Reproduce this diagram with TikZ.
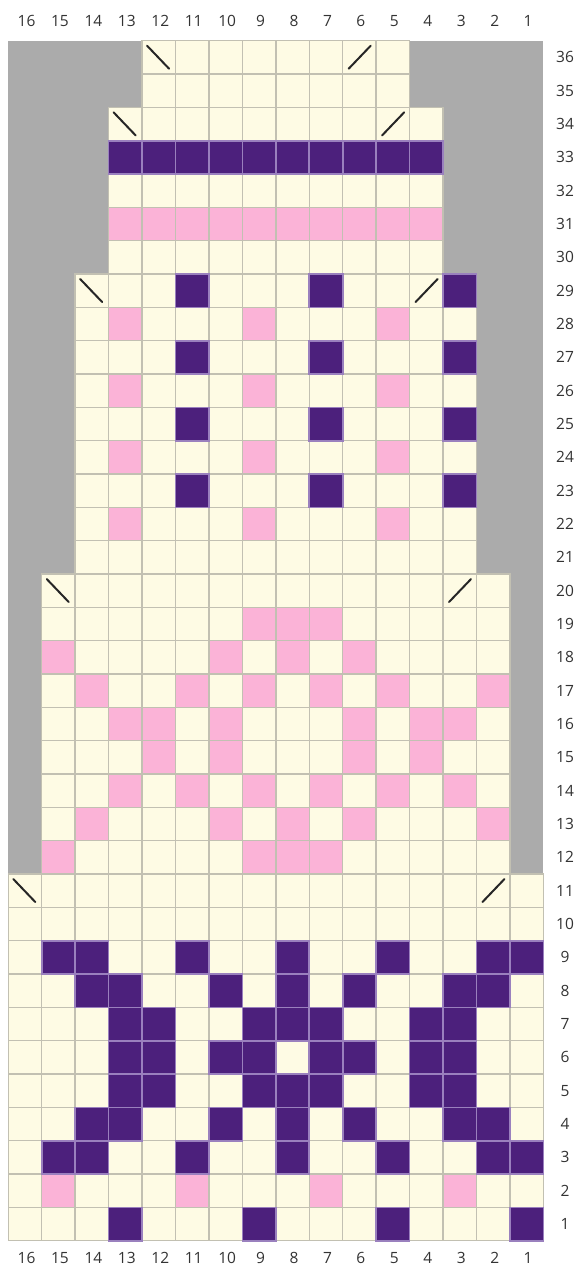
\documentclass[tikz,border=0pt]{standalone}
\usepackage{fontspec}
\setmainfont{Open Sans}
\definecolor{kgray}{HTML}{ABABAB}
\definecolor{kcream}{HTML}{FEFBE4}
\definecolor{kpink}{HTML}{FBB3D7}
\definecolor{kpurple}{HTML}{4C207C}
\definecolor{klav}{HTML}{9A80BE}
\definecolor{kgrid}{HTML}{C2C0B2}
\definecolor{klabel}{HTML}{333333}
\newcommand{\CW}{33.44}
\newcommand{\RH}{33.333}
\newcommand{\kcell}[3]{\fill[#1] ({8.3+(16-#2)*\CW},{40.7+(36-#3)*\RH}) rectangle ++(\CW,\RH);}
\newcommand{\kpcell}[2]{\filldraw[fill=kpurple,draw=klav,line width=1.6pt] ({8.3+(16-#1)*\CW},{40.7+(36-#2)*\RH}) rectangle ++(\CW,\RH);}
\newcommand{\kband}[4]{\fill[kcream] ({8.3+#1*\CW},{40.7+#3*\RH}) rectangle ({8.3+#2*\CW},{40.7+#4*\RH});}
% #1 left, #2 right, #3 top, #4 bottom, #5 last horizontal line index
\newcommand{\kbandgrid}[5]{%
  \foreach \kk in {#1,...,#2} {\draw[gridline] ({8.3+\kk*\CW},{40.7+#3*\RH}) -- ({8.3+\kk*\CW},{40.7+#4*\RH});}
  \foreach \jj in {#3,...,#5} {\draw[gridline] ({8.3+#1*\CW},{40.7+\jj*\RH}) -- ({8.3+#2*\CW},{40.7+\jj*\RH});}
}
\newcommand{\kback}[2]{\draw[kslash] ({8.3+(16-#1)*\CW+5},{40.7+(36-#2)*\RH+5}) -- ++(22,23);}
\newcommand{\kfwd}[2]{\draw[kslash] ({8.3+(16-#1)*\CW+6},{40.7+(36-#2)*\RH+28}) -- ++(22,-23);}
\tikzset{
  gridline/.style={draw=kgrid,line width=1.5pt,line cap=rect},
  kslash/.style={draw=black!85,line width=2pt,line cap=round},
  lbl/.style={text=klabel,font=\fontsize{15.5}{17}\selectfont,inner sep=0pt,anchor=center}
}
\begin{document}
\begin{tikzpicture}[x=1pt,y=-1pt]
\useasboundingbox (0,0) rectangle (574,1270);
\fill[white] (0,0) rectangle (574,1270);
% gray background
\fill[kgray] (8.3,40.7) rectangle (543.3,1240.7);
% cream bands
\kband{0}{16}{25}{36}
\kband{1}{15}{16}{25}
\kband{2}{14}{7}{16}
\kband{3}{13}{2}{7}
\kband{4}{12}{0}{2}
% pink cells
\foreach \c in {13,...,4} {\kcell{kpink}{\c}{31}}
\foreach \r/\cs in {28/{13,9,5},26/{13,9,5},24/{13,9,5},22/{13,9,5},
  19/{9,8,7},18/{15,10,8,6},17/{14,11,9,7,5,2},16/{13,12,10,6,4,3},
  15/{12,10,6,4},14/{13,11,9,7,5,3},13/{14,10,8,6,2},12/{15,9,8,7},
  2/{15,11,7,3}} {
  \foreach \c in \cs {\kcell{kpink}{\c}{\r}}
}
% grid lines
\kbandgrid{0}{16}{25}{36}{36}
\kbandgrid{1}{15}{16}{25}{24}
\kbandgrid{2}{14}{7}{16}{15}
\kbandgrid{3}{13}{2}{7}{6}
\kbandgrid{4}{12}{0}{2}{1}
% purple cells
\foreach \c in {13,...,4} {\kpcell{\c}{33}}
\foreach \r/\cs in {29/{11,7,3},27/{11,7,3},25/{11,7,3},23/{11,7,3},
  9/{15,14,11,8,5,2,1},8/{14,13,10,8,6,3,2},7/{13,12,9,8,7,4,3},
  6/{13,12,10,9,7,6,4,3},5/{13,12,9,8,7,4,3},4/{14,13,10,8,6,3,2},
  3/{15,14,11,8,5,2,1},1/{13,9,5,1}} {
  \foreach \c in \cs {\kpcell{\c}{\r}}
}
% decrease marks
\kback{12}{36} \kfwd{6}{36}
\kback{13}{34} \kfwd{5}{34}
\kback{14}{29} \kfwd{4}{29}
\kback{15}{20} \kfwd{3}{20}
\kback{16}{11} \kfwd{2}{11}
% column labels
\foreach \c in {1,...,16} {
  \node[lbl] (top\c) at ({8.3+(16-\c)*\CW+16.72+1.5},20.7) {\c};
  \node[lbl] (bot\c) at ({8.3+(16-\c)*\CW+16.72+1.5},1258) {\c};
}
% row labels
\foreach \r in {1,...,36} {
  \node[lbl] (row\r) at (565,{40.7+(36-\r)*\RH+16.67}) {\r};
}
\end{tikzpicture}
\end{document}
